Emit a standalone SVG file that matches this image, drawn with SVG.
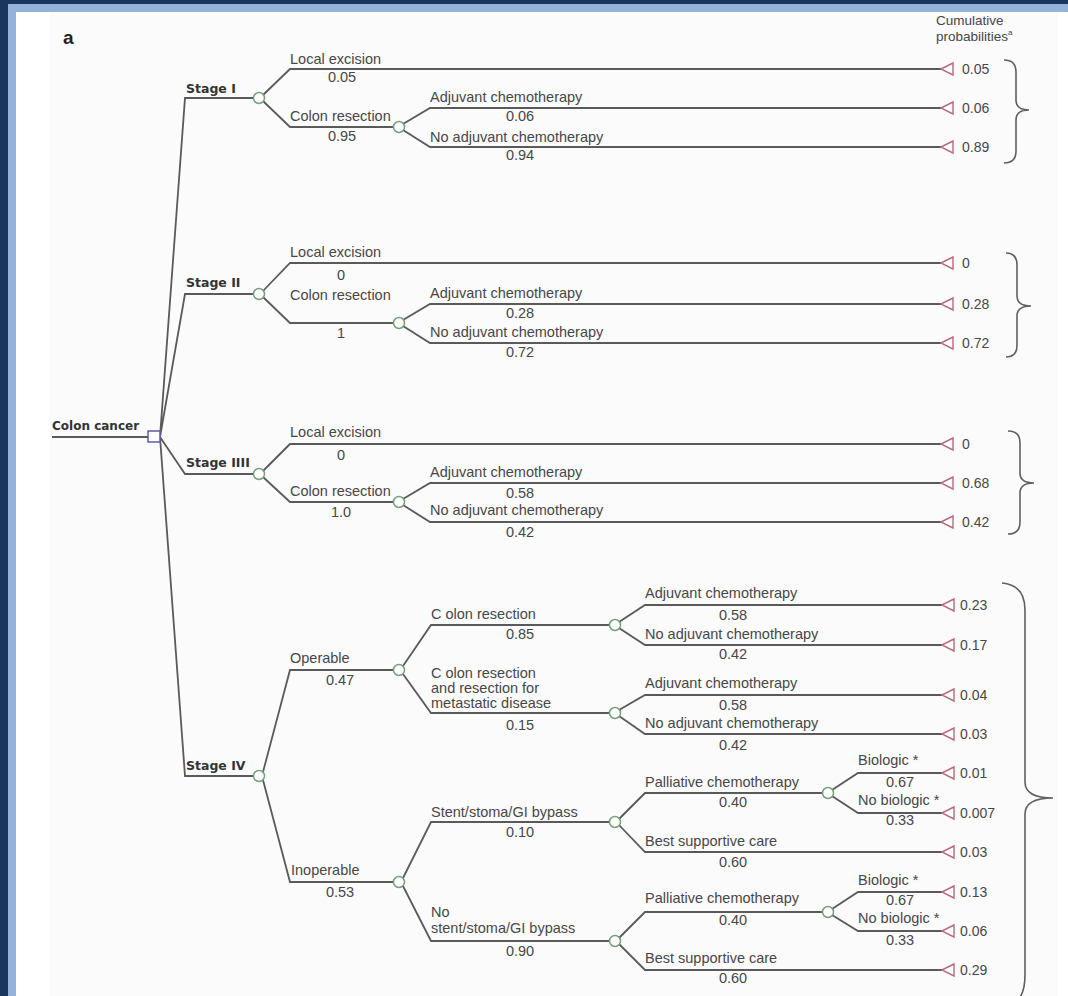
<svg xmlns="http://www.w3.org/2000/svg" xmlns:xlink="http://www.w3.org/1999/xlink" width="1068" height="996" viewBox="0 0 1068 996">
<style>
.ln{fill:none;stroke:#5a5a5a;stroke-width:1.8}
.br{fill:none;stroke:#5f5f5f;stroke-width:1.6}
.ch{fill:#fff;stroke:#74a07a;stroke-width:1.5}
.tm{fill:#fff;stroke:#b86a7c;stroke-width:1.4}
.dn{fill:#fff;stroke:#5b5ba8;stroke-width:1.5}
text{font-family:"Liberation Sans",Arial,sans-serif;font-size:14.5px;fill:#474747}
.b{font-family:"DejaVu Sans",Verdana,sans-serif;font-weight:bold;font-size:12.5px;fill:#333}
.c{text-anchor:middle}
.v{font-size:14px}
.h{font-size:13.5px}
</style>
<defs>
<path id="tri" d="M0,0 L12,-6 L12,6 Z"/>
</defs>
<rect x="0" y="0" width="1068" height="996" fill="#1a365e"/>
<rect x="8" y="4" width="1060" height="992" fill="#95b3d9"/>
<rect x="16" y="12" width="1052" height="984" fill="#ffffff"/>
<rect x="50" y="12" width="1008" height="984" fill="#fbfbfb"/>
<text x="63" y="44" style="font-size:19px;font-weight:bold;fill:#222">a</text>
<g id="header">
<text class="h" x="936" y="25">Cumulative</text>
<text class="h" x="936" y="41">probabilities<tspan font-size="8" dy="-6">a</tspan></text>
</g>

<g id="connectors">
<path class="ln" d="M52,437 H148"/>
<path class="ln" d="M160,437 L185,98 H253.5 M160,437 L185,294 H253.5 M160,437 L185,474 H253.5 M160,437 L185,776 H253.5"/>
<!-- Stage I -->
<path class="ln" d="M263,95 L290,69 H941 M263,101 L290,127 H393.5 M403,124 L430,108 H941 M403,130 L430,147 H941"/>
<!-- Stage II -->
<path class="ln" d="M263,291 L290,263 H941 M263,297 L290,323 H393.5 M403,320 L430,304 H941 M403,326 L430,343 H941"/>
<!-- Stage III -->
<path class="ln" d="M263,471 L290,444 H941 M263,477 L290,502 H393.5 M403,499 L430,483 H941 M403,505 L430,522 H941"/>
<!-- Stage IV -->
<path class="ln" d="M263,772 L290,670 H393.5 M263,780 L290,882 H393.5"/>
<path class="ln" d="M403,666 L431,625 H609.5 M403,674 L431,713 H609.5"/>
<path class="ln" d="M619,622 L645,605 H942 M619,628 L645,645 H942 M619,710 L645,695 H942 M619,716 L645,734 H942"/>
<path class="ln" d="M403,878 L431,822 H609.5 M403,886 L431,941 H609.5"/>
<path class="ln" d="M619,819 L645,793 H822.5 M619,825 L645,852 H942 M619,938 L645,912 H822.5 M619,944 L645,970 H942"/>
<path class="ln" d="M832,790 L858,773 H942 M832,796 L858,813 H942 M832,909 L858,892 H942 M832,915 L858,931 H942"/>
</g>

<g id="labels">
<text x="290" y="64">Local excision</text>
<text class="c" x="342" y="82">0.05</text>
<text x="290" y="121">Colon resection</text>
<text class="c" x="342" y="141">0.95</text>
<text x="430" y="102">Adjuvant chemotherapy</text>
<text class="c" x="520" y="121">0.06</text>
<text x="430" y="142">No adjuvant chemotherapy</text>
<text class="c" x="520" y="160">0.94</text>

<text x="290" y="257">Local excision</text>
<text class="c" x="341" y="280">0</text>
<text x="290" y="300">Colon resection</text>
<text class="c" x="341" y="338">1</text>
<text x="430" y="298">Adjuvant chemotherapy</text>
<text class="c" x="520" y="318">0.28</text>
<text x="430" y="337">No adjuvant chemotherapy</text>
<text class="c" x="520" y="357">0.72</text>

<text x="290" y="437">Local excision</text>
<text class="c" x="341" y="460">0</text>
<text x="290" y="496">Colon resection</text>
<text class="c" x="341" y="517">1.0</text>
<text x="430" y="477">Adjuvant chemotherapy</text>
<text class="c" x="520" y="498">0.58</text>
<text x="430" y="515">No adjuvant chemotherapy</text>
<text class="c" x="520" y="537">0.42</text>

<text x="290" y="663">Operable</text>
<text class="c" x="340" y="685">0.47</text>
<text x="291" y="875">Inoperable</text>
<text class="c" x="340" y="897">0.53</text>
<text x="431" y="619">C olon resection</text>
<text class="c" x="520" y="639">0.85</text>
<text x="431" y="678">C olon resection</text>
<text x="431" y="693">and resection for</text>
<text x="431" y="708">metastatic disease</text>
<text class="c" x="520" y="730">0.15</text>
<text x="645" y="598">Adjuvant chemotherapy</text>
<text class="c" x="733" y="620">0.58</text>
<text x="645" y="639">No adjuvant chemotherapy</text>
<text class="c" x="733" y="659">0.42</text>
<text x="645" y="688">Adjuvant chemotherapy</text>
<text class="c" x="733" y="710">0.58</text>
<text x="645" y="728">No adjuvant chemotherapy</text>
<text class="c" x="733" y="750">0.42</text>
<text x="431" y="817">Stent/stoma/GI bypass</text>
<text class="c" x="520" y="837">0.10</text>
<text x="431" y="917">No</text>
<text x="431" y="933">stent/stoma/GI bypass</text>
<text class="c" x="520" y="956">0.90</text>
<text x="645" y="787">Palliative chemotherapy</text>
<text class="c" x="733" y="807">0.40</text>
<text x="645" y="846">Best supportive care</text>
<text class="c" x="733" y="867">0.60</text>
<text x="645" y="903">Palliative chemotherapy</text>
<text class="c" x="733" y="925">0.40</text>
<text x="645" y="963">Best supportive care</text>
<text class="c" x="733" y="983">0.60</text>
<text x="858" y="765">Biologic *</text>
<text class="c" x="900" y="787">0.67</text>
<text x="858" y="805">No biologic *</text>
<text class="c" x="900" y="825">0.33</text>
<text x="858" y="885">Biologic *</text>
<text class="c" x="900" y="905">0.67</text>
<text x="858" y="923">No biologic *</text>
<text class="c" x="900" y="945">0.33</text>
</g>

<g id="root">
<text class="b" x="52" y="430" style="font-size:12px">Colon cancer</text>
<rect class="dn" x="148" y="431" width="12" height="11"/>
</g>
<g id="stage1"><text class="b" x="186" y="93">Stage I</text><circle class="ch" cx="259" cy="98" r="5.5"/></g>
<g id="stage2"><text class="b" x="186" y="287">Stage II</text><circle class="ch" cx="259" cy="294" r="5.5"/></g>
<g id="stage3"><text class="b" x="186" y="467">Stage IIII</text><circle class="ch" cx="259" cy="474" r="5.5"/></g>
<g id="stage4"><text class="b" x="186" y="770">Stage IV</text><circle class="ch" cx="259" cy="776" r="5.5"/></g>

<g id="chance-nodes">
<circle class="ch" cx="399" cy="127" r="5.5"/>
<circle class="ch" cx="399" cy="323" r="5.5"/>
<circle class="ch" cx="399" cy="502" r="5.5"/>
<circle class="ch" cx="399" cy="670" r="5.5"/>
<circle class="ch" cx="399" cy="882" r="5.5"/>
<circle class="ch" cx="615" cy="625" r="5.5"/>
<circle class="ch" cx="615" cy="713" r="5.5"/>
<circle class="ch" cx="615" cy="822" r="5.5"/>
<circle class="ch" cx="615" cy="941" r="5.5"/>
<circle class="ch" cx="828" cy="793" r="5.5"/>
<circle class="ch" cx="828" cy="912" r="5.5"/>
</g>

<g id="terminals">
<use class="tm" xlink:href="#tri" x="941" y="69"/><text class="v" x="962" y="74">0.05</text>
<use class="tm" xlink:href="#tri" x="941" y="108"/><text class="v" x="962" y="113">0.06</text>
<use class="tm" xlink:href="#tri" x="941" y="147"/><text class="v" x="962" y="152">0.89</text>
<use class="tm" xlink:href="#tri" x="941" y="263"/><text class="v" x="962" y="268">0</text>
<use class="tm" xlink:href="#tri" x="941" y="304"/><text class="v" x="962" y="309">0.28</text>
<use class="tm" xlink:href="#tri" x="941" y="343"/><text class="v" x="962" y="348">0.72</text>
<use class="tm" xlink:href="#tri" x="941" y="444"/><text class="v" x="962" y="449">0</text>
<use class="tm" xlink:href="#tri" x="941" y="483"/><text class="v" x="962" y="488">0.68</text>
<use class="tm" xlink:href="#tri" x="941" y="522"/><text class="v" x="962" y="527">0.42</text>
<use class="tm" xlink:href="#tri" x="942" y="605"/><text class="v" x="960" y="610">0.23</text>
<use class="tm" xlink:href="#tri" x="942" y="645"/><text class="v" x="960" y="650">0.17</text>
<use class="tm" xlink:href="#tri" x="942" y="695"/><text class="v" x="960" y="700">0.04</text>
<use class="tm" xlink:href="#tri" x="942" y="734"/><text class="v" x="960" y="739">0.03</text>
<use class="tm" xlink:href="#tri" x="942" y="773"/><text class="v" x="960" y="778">0.01</text>
<use class="tm" xlink:href="#tri" x="942" y="813"/><text class="v" x="960" y="818">0.007</text>
<use class="tm" xlink:href="#tri" x="942" y="852"/><text class="v" x="960" y="857">0.03</text>
<use class="tm" xlink:href="#tri" x="942" y="892"/><text class="v" x="960" y="897">0.13</text>
<use class="tm" xlink:href="#tri" x="942" y="931"/><text class="v" x="960" y="936">0.06</text>
<use class="tm" xlink:href="#tri" x="942" y="970"/><text class="v" x="960" y="975">0.29</text>
</g>

<g id="braces">
<path class="br" d="M1004,60 Q1016,60 1016,72 L1016,100 Q1016,110 1029,110 Q1016,110 1016,120 L1016,151 Q1016,163 1004,163"/>
<path class="br" d="M1006,253 Q1017,253 1017,265 L1017,296 Q1017,306 1031,306 Q1017,306 1017,316 L1017,345 Q1017,357 1006,357"/>
<path class="br" d="M1008,431 Q1020,431 1020,443 L1020,473 Q1020,483 1034,483 Q1020,483 1020,493 L1020,522 Q1020,534 1008,534"/>
<path class="br" d="M1002,583 Q1025,585 1025,610 L1025,782 Q1025,798 1053,798 Q1025,798 1025,814 L1025,975 Q1025,992 1018,1000"/>
</g>
</svg>
